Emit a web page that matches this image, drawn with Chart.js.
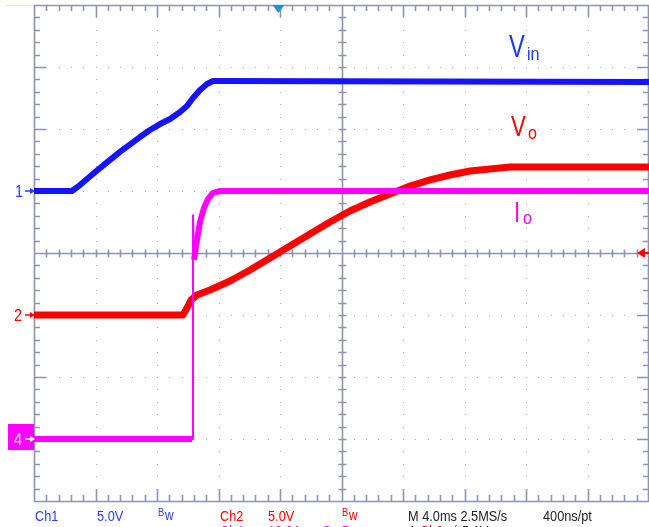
<!DOCTYPE html>
<html>
<head>
<meta charset="utf-8">
<script src="https://cdn.jsdelivr.net/npm/chart.js@4/dist/chart.umd.min.js"></script>
<style>
html,body{margin:0;padding:0;background:#fff;}
#wrap{position:relative;width:649px;height:527px;overflow:hidden;}
canvas{display:block;}
</style>
</head>
<body>
<div id="wrap"><canvas id="c" width="649" height="527"></canvas></div>
<script>
// ---- data (time in ms from left edge of screen, 4 ms/div) ----
const vinTime  = [0, 2.47, 2.99, 4.29, 5.59, 6.89, 7.54, 8.20, 8.85, 9.50, 9.95, 10.34, 10.80, 11.25, 11.64, 12.10, 40.0];
const vinVolts = [0, 0, 0.48, 1.85, 3.15, 4.35, 4.92, 5.40, 5.81, 6.37, 6.85, 7.50, 8.15, 8.63, 8.87, 8.87, 8.79];

const voTime  = [0, 9.69, 9.95, 10.21, 10.60, 11.45, 12.75, 14.05, 15.35, 16.65, 17.95, 19.25, 20.55, 21.85, 23.15, 24.46, 25.76, 27.06, 28.36, 29.66, 30.96, 40.0];
const voVolts = [0, 0, 0.56, 1.21, 1.61, 2.02, 2.74, 3.63, 4.60, 5.56, 6.53, 7.50, 8.39, 9.11, 9.76, 10.40, 10.89, 11.29, 11.61, 11.77, 11.94, 11.94];

const ioTime = [0, 10.28, 10.34, 10.41, 10.60, 10.80, 11.06, 11.32, 11.64, 12.10, 40.0];
const ioAmps = [0, 0, 36.1, 28.9, 32.1, 35.0, 37.3, 38.7, 39.7, 40.0, 40.0];

// channel settings: units per division and ground-marker offset (divisions from centre)
const channelNames   = ['Ch1', 'Ch2', 'Ch4'];
const unitsPerDiv    = [5, 5, 10];
const offsetDiv      = [1, -1, -3];
const triggerTime    = 15.9;

// status bar text
const statusLine1 = ['Ch1', '5.0V', 'Bw', 'Ch2', '5.0V', 'Bw', 'M 4.0ms 2.5MS/s', '400ns/pt'];
const statusLine2 = ['Ch4', '10.0A', 'Ω', 'Bw', 'A', 'Ch2', '⟋', '5.1V'];
const traceLabels = ['V', 'in', 'V', 'o', 'I', 'o'];

// ---- build library datasets ----
function toPts(t, v, ch) {
  return t.map((x, i) => ({x: x, y: v[i] / unitsPerDiv[ch] + offsetDiv[ch]}));
}
const BLUE = '#1414ff', RED = '#ff0000', MAG = '#ff00ff';
const GRID = '#8d93b0';

function txt(ctx, s, x, y, size, color, sx) {
  ctx.save();
  ctx.translate(x, y);
  ctx.scale(sx || 0.85, 1);
  ctx.font = size + 'px "Liberation Sans", Arial, sans-serif';
  ctx.fillStyle = color;
  ctx.textBaseline = 'alphabetic';
  ctx.fillText(s, 0, 0);
  ctx.restore();
}

const graticule = {
  id: 'graticule',
  beforeDatasetsDraw(chart) {
    const ctx = chart.ctx, a = chart.chartArea;
    const L = a.left, R = a.right, T = a.top, B = a.bottom;
    const dx = (R - L) / 10, dy = (B - T) / 8;
    const r = v => Math.round(v) + 0.5;
    ctx.save();
    ctx.fillStyle = '#f3e6d4';
    ctx.fillRect(5, 5, L - 5, 1);
    ctx.fillStyle = '#a7acc4';
    for (let i = 1; i < 10; i++) {
      if (i === 5) continue;
      const x = Math.round(L + i * dx);
      for (let j = 1; j < 40; j++) ctx.fillRect(x, Math.round(T + j * dy / 5), 1, 1);
    }
    for (let k = 1; k < 8; k++) {
      if (k === 4) continue;
      const y = Math.round(T + k * dy);
      for (let j = 1; j < 50; j++) ctx.fillRect(Math.round(L + j * dx / 5), y, 1, 1);
    }
    ctx.strokeStyle = GRID;
    ctx.lineWidth = 1.6;
    ctx.beginPath();
    ctx.moveTo(r(L), T); ctx.lineTo(r(L), B);
    ctx.moveTo(L, r(T)); ctx.lineTo(R, r(T));
    ctx.moveTo(L, r(B)); ctx.lineTo(R, r(B));
    ctx.moveTo(r(R) - 1, T); ctx.lineTo(r(R) - 1, B);
    const cx = r(L + 5 * dx), cy = r(T + 4 * dy);
    ctx.moveTo(cx, T); ctx.lineTo(cx, B);
    ctx.moveTo(L, cy); ctx.lineTo(R, cy);
    for (let j = 1; j < 50; j++) {
      const x = r(L + j * dx / 5);
      const len = j % 5 === 0 ? 12 : 6;
      ctx.moveTo(x, T); ctx.lineTo(x, T + len);
      ctx.moveTo(x, B); ctx.lineTo(x, B - len);
      ctx.moveTo(x, cy - 4); ctx.lineTo(x, cy + 4);
    }
    for (let j = 1; j < 40; j++) {
      const y = r(T + j * dy / 5);
      const len = j % 5 === 0 ? 12 : 6;
      ctx.moveTo(L, y); ctx.lineTo(L + len, y);
      ctx.moveTo(R, y); ctx.lineTo(R - len, y);
      ctx.moveTo(cx - 4, y); ctx.lineTo(cx + 4, y);
    }
    ctx.stroke();
    ctx.restore();
  },
  afterDatasetsDraw(chart) {
    const ctx = chart.ctx, a = chart.chartArea;
    const ys = chart.scales.y, xs = chart.scales.x;
    ctx.save();
    const y1 = ys.getPixelForValue(offsetDiv[0]);
    const y2 = ys.getPixelForValue(offsetDiv[1]);
    const y4 = ys.getPixelForValue(offsetDiv[2]);
    function arrow(y, color) {
      ctx.strokeStyle = color; ctx.fillStyle = color; ctx.lineWidth = 1.5;
      ctx.beginPath(); ctx.moveTo(25, y); ctx.lineTo(32, y); ctx.stroke();
      ctx.beginPath(); ctx.moveTo(35, y); ctx.lineTo(30, y - 3); ctx.lineTo(30, y + 3); ctx.closePath(); ctx.fill();
    }
    txt(ctx, '1', 15, y1 + 6, 17, '#2a3cff', 0.85); arrow(y1, '#2a3cff');
    txt(ctx, '2', 14, y2 + 6, 17, RED, 0.85); arrow(y2, RED);
    ctx.fillStyle = MAG; ctx.fillRect(8, y4 - 15, 26, 26);
    txt(ctx, '4', 14, y4 + 6, 17, '#ffffff', 0.85); arrow(y4, '#ffffff');
    const ty = ys.getPixelForValue(0);
    ctx.fillStyle = RED;
    ctx.beginPath(); ctx.moveTo(637, ty); ctx.lineTo(645, ty - 5); ctx.lineTo(645, ty + 5); ctx.closePath(); ctx.fill();
    ctx.fillRect(644, ty - 1, 6, 2);
    const tx = xs.getPixelForValue(triggerTime);
    ctx.fillStyle = '#1e90e0';
    ctx.beginPath(); ctx.moveTo(tx - 6, a.top); ctx.lineTo(tx + 6, a.top); ctx.lineTo(tx, a.top + 8); ctx.closePath(); ctx.fill();
    txt(ctx, traceLabels[0], 509, 57, 32, '#1a36ff', 0.74);
    txt(ctx, traceLabels[1], 527, 60, 19, '#1a36ff', 0.85);
    txt(ctx, traceLabels[2], 511, 136, 30, RED, 0.74);
    txt(ctx, traceLabels[3], 528, 139, 19, RED, 0.85);
    txt(ctx, traceLabels[4], 514, 222, 30, MAG, 0.74);
    txt(ctx, traceLabels[5], 523, 224, 19, MAG, 0.85);
    const sx1 = [35, 97, 158, 220, 268, 342, 408, 543];
    const col1 = ['#2a3cff', '#2a3cff', '#2a3cff', RED, RED, RED, '#222222', '#222222'];
    statusLine1.forEach((s, i) => {
      if (s === 'Bw') { txt(ctx, 'B', sx1[i], 516, 11, col1[i], 0.85); txt(ctx, 'w', sx1[i] + 7, 520, 14, col1[i], 0.85); }
      else txt(ctx, s, sx1[i], 521, 15, col1[i], 0.85);
    });
    const sx2 = [220, 268, 322, 342, 408, 420, 448, 462];
    const col2 = [MAG, MAG, MAG, MAG, '#222222', RED, '#222222', '#222222'];
    statusLine2.forEach((s, i) => txt(ctx, s, sx2[i], 536, 15, col2[i], 0.85));
    ctx.restore();
  }
};

new Chart(document.getElementById('c'), {
  type: 'scatter',
  data: {
    datasets: [
      {label: channelNames[0], data: toPts(vinTime, vinVolts, 0), borderColor: BLUE, showLine: true, pointRadius: 0, borderWidth: 6, order: 3},
      {label: channelNames[1], data: toPts(voTime, voVolts, 1), borderColor: RED, showLine: true, pointRadius: 0, borderWidth: 7, order: 2},
      {label: channelNames[2], data: toPts(ioTime, ioAmps, 2), borderColor: MAG, showLine: true, pointRadius: 0, borderWidth: 6, order: 1,
        segment: {borderWidth: c => Math.abs(c.p1.x - c.p0.x) < 2.5 ? 2 : 6}}
    ]
  },
  options: {
    responsive: false,
    animation: false,
    devicePixelRatio: 1,
    layout: {padding: {left: 34, top: 5, right: 0, bottom: 26}},
    plugins: {legend: {display: false}, tooltip: {enabled: false}},
    scales: {
      x: {type: 'linear', min: 0, max: 40, display: false},
      y: {type: 'linear', min: -4, max: 4, display: false}
    },
    elements: {line: {tension: 0, borderJoinStyle: 'round', borderCapStyle: 'butt'}}
  },
  plugins: [graticule]
});
</script>
</body>
</html>
